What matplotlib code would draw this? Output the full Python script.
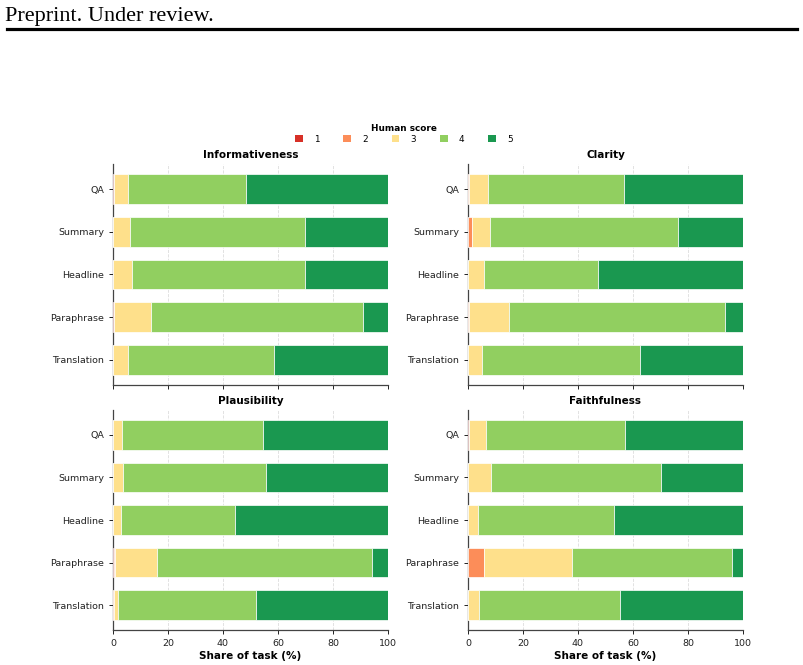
import numpy as np
import matplotlib
matplotlib.use("Agg")
import matplotlib.pyplot as plt
from matplotlib.patches import Patch
from matplotlib.lines import Line2D

# tasks, top to bottom
tasks = ["QA", "Summary", "Headline", "Paraphrase", "Translation"]
score_labels = ["1", "2", "3", "4", "5"]
score_colors = ["#d73027", "#fc8d59", "#fee08b", "#91cf60", "#1a9850"]

# share of task (%) per human score 1..5
informativeness = [
    [0.2, 0.0, 0.0, 0.3, 0.0],
    [0.0, 0.0, 0.0, 0.0, 0.0],
    [5.1, 6.2, 7.0, 13.7, 5.6],
    [43.1, 63.8, 62.7, 76.8, 53.1],
    [51.6, 30.0, 30.3, 9.2, 41.3],
]
clarity = [
    [0.0, 0.0, 0.0, 0.0, 0.0],
    [0.5, 1.3, 0.0, 0.5, 0.0],
    [6.9, 6.6, 5.9, 14.5, 5.1],
    [49.3, 68.5, 41.4, 78.5, 57.6],
    [43.3, 23.6, 52.7, 6.5, 37.3],
]
plausibility = [
    [0.0, 0.0, 0.0, 0.4, 0.0],
    [0.0, 0.0, 0.0, 0.4, 0.2],
    [3.4, 3.6, 3.0, 15.1, 1.7],
    [51.1, 52.2, 41.4, 78.2, 50.0],
    [45.5, 44.2, 55.6, 5.9, 48.1],
]
faithfulness = [
    [0.2, 0.0, 0.0, 0.0, 0.0],
    [0.0, 0.0, 0.0, 5.7, 0.0],
    [6.5, 8.5, 3.6, 32.2, 4.1],
    [50.3, 61.6, 49.5, 58.1, 51.2],
    [43.0, 29.9, 46.9, 4.0, 44.7],
]
panels = [("Informativeness", informativeness), ("Clarity", clarity),
          ("Plausibility", plausibility), ("Faithfulness", faithfulness)]

W, H = 804, 665
fig = plt.figure(figsize=(W / 100, H / 100), dpi=100)

# page header
fig.text(5 / W, 1 - 21 / H, "Preprint. Under review.", family="Liberation Serif",
         fontsize=16, va="baseline", ha="left")
fig.add_artist(Line2D([7 / W, 797 / W], [1 - 29 / H, 1 - 29 / H], color="black",
                      lw=2.3, transform=fig.transFigure))

# axes boxes in pixels: left, top, right, bottom
boxes = [(113, 164, 388, 385), (468, 164, 743, 385),
         (113, 410, 388, 630), (468, 410, 743, 630)]

y = np.arange(len(tasks))
for k, (title, data) in enumerate(panels):
    l, t, r, b = boxes[k]
    ax = fig.add_axes([l / W, 1 - b / H, (r - l) / W, (b - t) / H])
    data = np.array(data)
    left = np.zeros(len(tasks))
    for j in range(5):
        ax.barh(y, data[j], left=left, height=0.7, color=score_colors[j],
                edgecolor="white", linewidth=0.5, zorder=3)
        left = left + data[j]
    ax.set_yticks(y)
    ax.set_yticklabels(tasks)
    ax.invert_yaxis()
    ax.set_xlim(0, 100)
    ax.set_xticks([0, 20, 40, 60, 80, 100])
    ax.grid(axis="x", linestyle="--", color="#dddddd", linewidth=0.6, zorder=0)
    ax.set_title(title, fontsize=7.5, fontweight="bold", pad=4)
    for s in ["top", "right"]:
        ax.spines[s].set_visible(False)
    for s in ["left", "bottom"]:
        ax.spines[s].set_color("#444444")
        ax.spines[s].set_linewidth(0.9)
    ax.tick_params(labelsize=6.8, colors="#222222", length=3, width=0.7)
    if k < 2:
        ax.tick_params(labelbottom=False)
    else:
        ax.set_xlabel("Share of task (%)", fontsize=7.5, fontweight="bold", labelpad=2)

handles = [Patch(facecolor=c, edgecolor="none") for c in score_colors]
leg = fig.legend(handles, score_labels, loc="center", bbox_to_anchor=(404 / W, 1 - 134 / H),
                 ncol=5, frameon=False, fontsize=6.4, title="Human score",
                 title_fontproperties={"weight": "bold", "size": 6.4},
                 handlelength=0.85, handleheight=0.85, columnspacing=2.68, handletextpad=1.28,
                 borderpad=0.1, labelspacing=0.2)

fig.savefig("out.png", dpi=100)
